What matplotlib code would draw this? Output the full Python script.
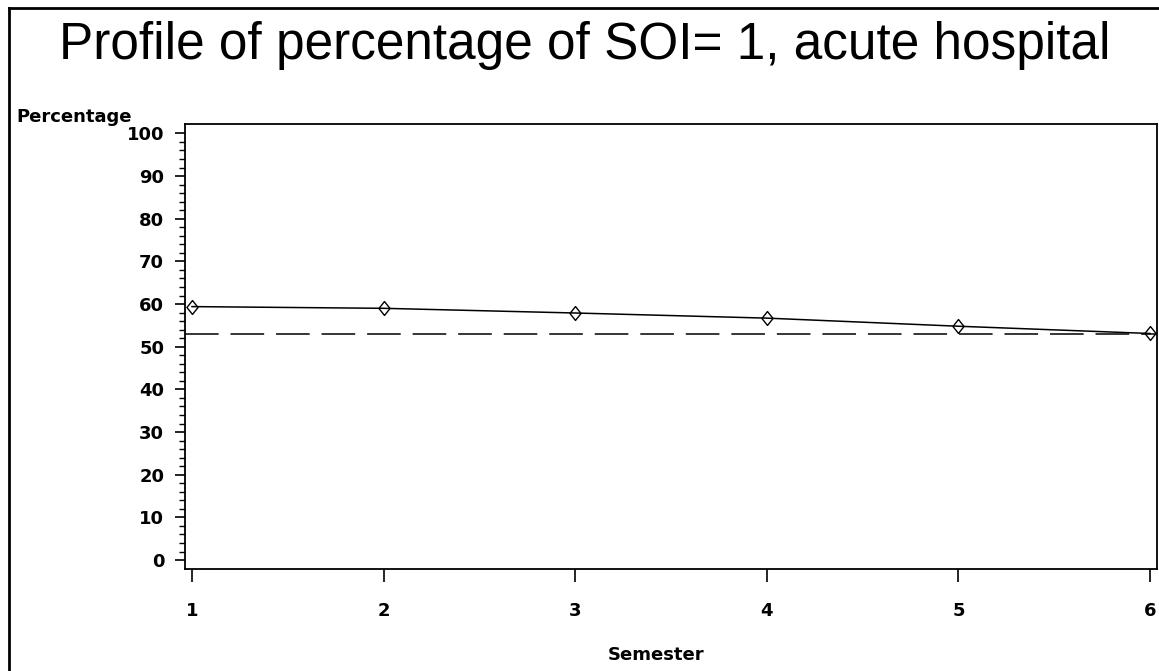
import numpy as np
import matplotlib.pyplot as plt
from matplotlib.lines import Line2D
from matplotlib.path import Path

# data
semester = [1, 2, 3, 4, 5, 6]
pct_soi1 = [59.4, 59.0, 57.9, 56.7, 54.8, 53.1]
overall_mean = 53.0

W, H = 1159, 671
fig = plt.figure(figsize=(W / 100, H / 100), dpi=100, facecolor='white')

# axes box in pixel coords of the reference
left, right, top, bottom = 185, 1157, 124, 569
ax = fig.add_axes([left / W, 1 - bottom / H, (right - left) / W, (bottom - top) / H])

# SAS-style diamond, a bit narrower than tall
diamond = Path([(0, 1), (0.8, 0), (0, -1), (-0.8, 0), (0, 1)],
               [Path.MOVETO, Path.LINETO, Path.LINETO, Path.LINETO, Path.CLOSEPOLY])

ax.plot(semester, pct_soi1, color='black', lw=1.1, marker=diamond, markersize=10,
        mfc='none', mec='black', mew=1.0)
ax.axhline(overall_mean, color='black', lw=1.1, dashes=(22, 7.8))

ax.set_xlim(0.9635, 6.0365)
ax.set_ylim(-2.1, 102.2)
ax.set_xticks(semester)
ax.set_yticks(np.arange(0, 101, 10))
ax.set_yticks(np.arange(0, 101, 2), minor=True)

tick_font = dict(family='DejaVu Sans', weight='bold', size=13)
ax.set_xticklabels([str(s) for s in semester], **tick_font)
ax.set_yticklabels([str(v) for v in range(0, 101, 10)], **tick_font)

ax.tick_params(axis='x', direction='out', length=9, width=1.2, pad=15)
ax.tick_params(axis='y', which='major', direction='out', length=7, width=1.2, pad=8)
ax.tick_params(axis='y', which='minor', direction='out', length=4, width=1.0)
for s in ax.spines.values():
    s.set_linewidth(1.3)

fig.text(585 / W, 1 - 46 / H, 'Profile of percentage of SOI= 1, acute hospital',
         ha='center', va='center', family='Liberation Sans', size=37)
fig.text(16 / W, 1 - 117 / H, 'Percentage', ha='left', va='center', **tick_font)
fig.text(656 / W, 1 - 655 / H, 'Semester', ha='center', va='center', **tick_font)

# outer frame (right and bottom edges fall outside the image)
fig.add_artist(Line2D([9 / W, 9 / W], [0, 1 - 8 / H], transform=fig.transFigure,
                      color='black', lw=2))
fig.add_artist(Line2D([9 / W, 1], [1 - 8 / H, 1 - 8 / H], transform=fig.transFigure,
                      color='black', lw=2))

fig.savefig('out.png', dpi=100, facecolor='white')
